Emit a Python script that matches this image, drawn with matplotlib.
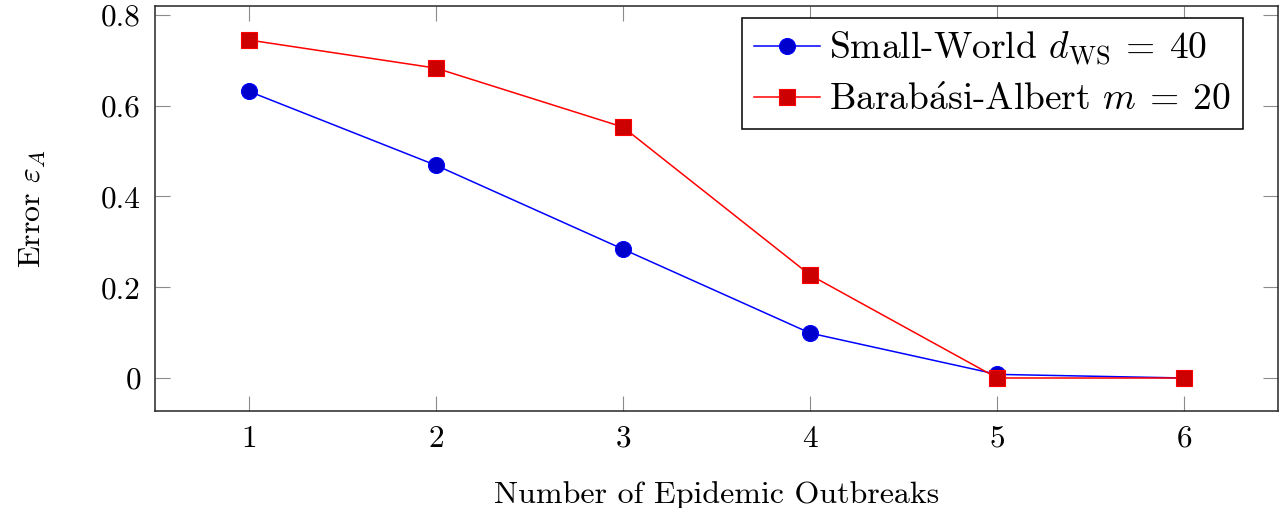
import matplotlib
matplotlib.use("Agg")
import matplotlib.pyplot as plt
from matplotlib.ticker import FuncFormatter

plt.rcParams['font.family'] = ['cmr10', 'DejaVu Serif']
plt.rcParams['mathtext.fontset'] = 'cm'
plt.rcParams['axes.formatter.use_mathtext'] = True
plt.rcParams['axes.unicode_minus'] = False

# number of outbreaks vs. reconstruction error
outbreaks = [1, 2, 3, 4, 5, 6]
err_small_world = [0.632, 0.469, 0.284, 0.099, 0.008, 0.0]
err_barabasi = [0.745, 0.683, 0.553, 0.227, 0.0, 0.0]

label_sw = r'Small-World $d_{\mathrm{WS}}\:=\:40$'
label_ba = r'Barab$\mathrm{\acute{a}}$si-Albert $m\:=\:20$'
y_ticks = [0, 0.2, 0.4, 0.6, 0.8]

fig = plt.figure(figsize=(12.8, 5.08), dpi=100)
ax = fig.add_axes([155 / 1280, 97 / 508, 1123 / 1280, 405 / 508])

ax.plot(outbreaks, err_small_world, color='#0000ff', lw=1.1,
        marker='o', markersize=11.5, markerfacecolor='#0000cc',
        markeredgecolor='#0000ff', markeredgewidth=0.8, label=label_sw)
ax.plot(outbreaks, err_barabasi, color='#ff0000', lw=1.1,
        marker='s', markersize=11.5, markerfacecolor='#cc0000',
        markeredgecolor='#ff0000', markeredgewidth=0.8, label=label_ba)

ax.set_xlim(0.5, 6.5)
ax.set_ylim(-0.0727, 0.8198)
ax.set_xticks(outbreaks)
ax.set_yticks(y_ticks)
ax.yaxis.set_major_formatter(FuncFormatter(lambda v, pos: f'{v:g}'))

ax.tick_params(direction='in', length=10.8, width=0.8, color='#8c8c8c',
               top=True, right=True, labelsize=22.5)
ax.tick_params(axis='y', pad=10)
ax.tick_params(axis='x', pad=10)
for sp in ax.spines.values():
    sp.set_linewidth(1.1)
    sp.set_color('#262626')

ax.set_xlabel('Number of Epidemic Outbreaks', fontsize=23, labelpad=20)
ax.set_ylabel(r'Error $\varepsilon_A$', fontsize=23, labelpad=38)

leg = ax.legend(loc='upper right', bbox_to_anchor=(1243 / 1280, 1 - 18 / 508),
                bbox_transform=fig.transFigure, fontsize=27, frameon=True,
                fancybox=False, edgecolor='black', framealpha=1,
                handlelength=1.75, handletextpad=0.25, borderpad=0.32,
                labelspacing=0.4, borderaxespad=0)
leg.get_frame().set_linewidth(1.1)

fig.savefig('out.png', dpi=100)
